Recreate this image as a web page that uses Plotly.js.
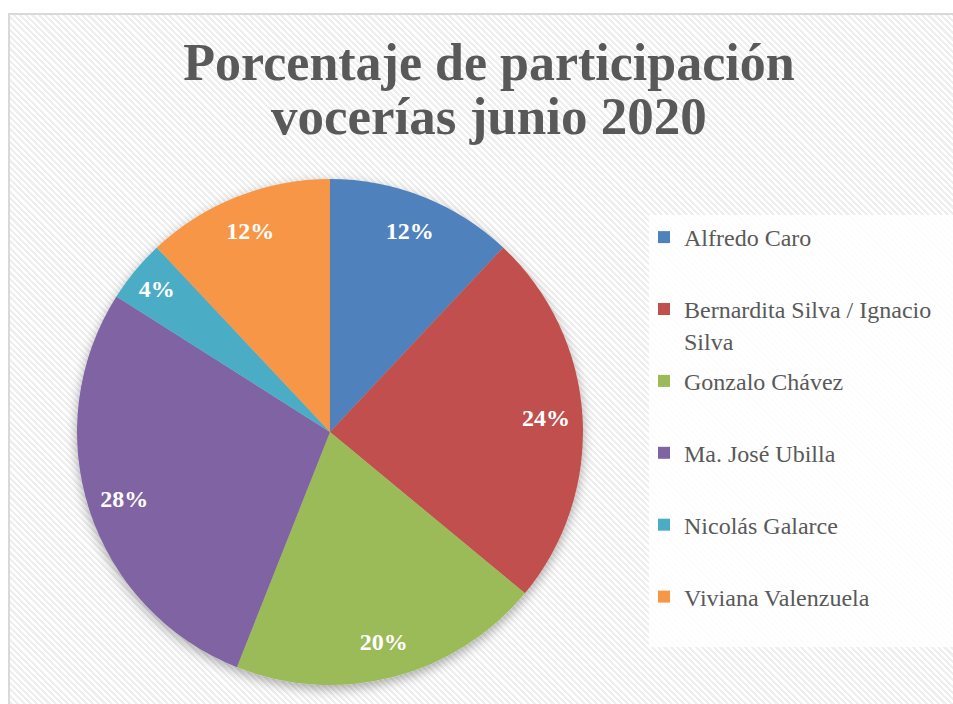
<!DOCTYPE html>
<html>
<head>
<meta charset="utf-8">
<script src="https://cdn.plot.ly/plotly-3.0.1.min.js"></script>
<style>
  html, body { margin: 0; padding: 0; background: #ffffff; overflow: hidden; width: 953px; height: 704px; }
  #wrap { position: relative; width: 953px; height: 704px; overflow: hidden; }
  #bg {
    position: absolute; left: 8px; top: 13px; width: 1000px; height: 760px;
    border-top: 2px solid #d9d9d9; border-left: 2px solid #d9d9d9;
    background: repeating-linear-gradient(45deg, #ffffff 0px, #ffffff 2.2px, #efefef 2.2px, #efefef 4.4px);
  }
  #chart { position: absolute; left: 0; top: 0; width: 953px; height: 704px; }
  .pielayer .trace:first-child { filter: url(#pieShadow); }
</style>
</head>
<body>
<svg width="0" height="0" style="position:absolute; left:0; top:0">
  <defs>
    <filter id="pieShadow" x="-20%" y="-20%" width="140%" height="140%">
      <feDropShadow dx="0" dy="4" stdDeviation="6" flood-color="#000000" flood-opacity="0.33"/>
    </filter>
  </defs>
</svg>
<div id="wrap">
  <div id="bg"></div>
  <div id="chart"></div>
</div>
<script>
// ---- data ----
var titleLines = ["Porcentaje de participación", "vocerías junio 2020"];
var names = ["Alfredo Caro", "Bernardita Silva / Ignacio Silva", "Gonzalo Chávez",
             "Ma. José Ubilla", "Nicolás Galarce", "Viviana Valenzuela"];
var percents = [12, 24, 20, 28, 4, 12];
var colors = ["#4F81BD", "#C0504D", "#9BBB59", "#8064A2", "#4BACC6", "#F79646"];

var serif = "Liberation Serif, Times New Roman, serif";

// legend text: wrap long names onto two lines, pad short ones to two lines
function legendText(n) {
  if (n.length > 26) {
    var i = n.lastIndexOf(" ");
    return n.slice(0, i) + "<br>" + n.slice(i + 1);
  }
  return n + "<br> ";
}

var pieDomain = { x: [77 / 953, 583 / 953], y: [19 / 704, 525 / 704] };

var traces = [
  {
    type: "pie",
    values: percents,
    labels: names,
    marker: { colors: colors, line: { width: 0 } },
    sort: false,
    direction: "clockwise",
    rotation: 0,
    textinfo: "none",
    hoverinfo: "label+percent",
    showlegend: false,
    domain: pieDomain
  },
  {
    type: "pie",
    values: percents,
    labels: names,
    hole: 0.71,
    marker: { colors: names.map(function () { return "rgba(0,0,0,0)"; }), line: { width: 0 } },
    sort: false,
    direction: "clockwise",
    rotation: 0,
    textinfo: "percent",
    texttemplate: "%{percent:.0%}",
    textposition: "inside",
    insidetextorientation: "horizontal",
    textfont: { family: serif, size: 24, color: "#ffffff", weight: "bold" },
    hoverinfo: "skip",
    showlegend: false,
    domain: pieDomain
  }
];

// legend entries, one per person
names.forEach(function (n, i) {
  traces.push({
    type: "scatter",
    mode: "markers",
    x: [null], y: [null],
    name: legendText(n),
    legendgroup: "g" + i,
    marker: { symbol: "square", size: 12, color: colors[i] },
    hoverinfo: "skip",
    showlegend: true
  });
});

var layout = {
  width: 953,
  height: 704,
  margin: { l: 0, r: 0, t: 0, b: 0 },
  paper_bgcolor: "rgba(0,0,0,0)",
  plot_bgcolor: "rgba(0,0,0,0)",
  xaxis: { visible: false },
  yaxis: { visible: false },
  title: {
    text: titleLines[0],
    font: { family: serif, size: 52, color: "#595959", weight: "bold" },
    x: 489 / 953, xanchor: "center", xref: "container",
    y: 1 - 62 / 704, yanchor: "middle", yref: "container"
  },
  annotations: [
    {
      text: titleLines[1],
      font: { family: serif, size: 53, color: "#595959", weight: "bold" },
      x: 489 / 953, xref: "paper", xanchor: "center",
      y: 1 - 116 / 704, yref: "paper", yanchor: "middle",
      showarrow: false
    }
  ],
  shapes: [
    {
      type: "rect", xref: "paper", yref: "paper", layer: "below",
      x0: 649 / 953, x1: 1, y0: 1 - 647 / 704, y1: 1 - 215 / 704,
      fillcolor: "rgba(255,255,255,0.88)", line: { width: 0 }
    }
  ],
  showlegend: true,
  legend: {
    x: 644 / 953, xanchor: "left",
    y: 1 - 215 / 704, yanchor: "top",
    bgcolor: "rgba(0,0,0,0)",
    borderwidth: 0,
    font: { family: serif, size: 24, color: "#595959" },
    traceorder: "grouped",
    tracegroupgap: 6.5,
    valign: "top"
  }
};

Plotly.newPlot("chart", traces, layout, { displayModeBar: false, staticPlot: true });
</script>
</body>
</html>
